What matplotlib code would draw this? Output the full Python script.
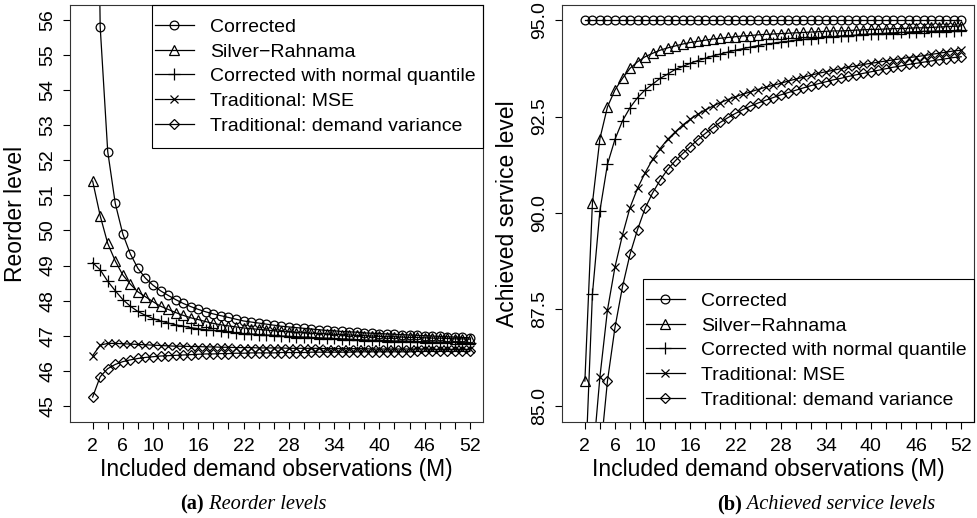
import matplotlib
matplotlib.use("Agg")
import matplotlib.pyplot as plt
from matplotlib.patches import Rectangle

# ---------------- data ----------------
M = list(range(2, 53))

series_labels = ["Corrected", "Silver\u2212Rahnama", "Corrected with normal quantile",
                 "Traditional: MSE", "Traditional: demand variance"]

reorder_corrected = [72.0, 55.81, 52.25, 50.77, 49.90, 49.33, 48.92, 48.64, 48.44, 48.28,
                     48.15, 48.03, 47.92, 47.83, 47.75, 47.68, 47.62, 47.57, 47.52, 47.47,
                     47.42, 47.39, 47.36, 47.33, 47.30, 47.27, 47.25, 47.23, 47.21, 47.19,
                     47.17, 47.15, 47.14, 47.12, 47.11, 47.10, 47.08, 47.07, 47.06, 47.05,
                     47.04, 47.03, 47.02, 47.01, 47.00, 46.99, 46.98, 46.97, 46.96, 46.95,
                     46.94]
reorder_sr = [51.41, 50.42, 49.63, 49.13, 48.73, 48.47, 48.25, 48.11, 47.97,
              47.84, 47.75, 47.66, 47.58, 47.51, 47.46, 47.40, 47.35, 47.31, 47.28,
              47.25, 47.22, 47.20, 47.18, 47.16, 47.14, 47.12, 47.11, 47.09, 47.08,
              47.07, 47.06, 47.05, 47.04, 47.03, 47.02, 47.01, 47.00, 46.99, 46.98,
              46.97, 46.97, 46.96, 46.95, 46.95, 46.94, 46.93, 46.93, 46.92, 46.91,
              46.91, 46.90]
reorder_normq = [49.08, 48.88, 48.55, 48.28, 48.03, 47.84, 47.69, 47.58, 47.49,
                 47.42, 47.36, 47.31, 47.27, 47.23, 47.20, 47.17, 47.15, 47.12, 47.10,
                 47.08, 47.06, 47.05, 47.03, 47.02, 47.01, 46.99, 46.98, 46.97, 46.96,
                 46.95, 46.94, 46.93, 46.92, 46.91, 46.90, 46.89, 46.88, 46.87, 46.87,
                 46.86, 46.85, 46.85, 46.84, 46.83, 46.83, 46.82, 46.82, 46.81, 46.81,
                 46.80, 46.80]
reorder_mse = [46.43, 46.73, 46.78, 46.78, 46.77, 46.76, 46.75, 46.74, 46.73,
               46.72, 46.71, 46.70, 46.70, 46.69, 46.69, 46.68, 46.68, 46.67, 46.67,
               46.66, 46.66, 46.66, 46.65, 46.65, 46.65, 46.65, 46.64, 46.64, 46.64,
               46.64, 46.64, 46.63, 46.63, 46.63, 46.63, 46.63, 46.63, 46.62, 46.62,
               46.62, 46.62, 46.62, 46.62, 46.62, 46.62, 46.61, 46.61, 46.61, 46.61,
               46.61, 46.61]
reorder_var = [45.25, 45.83, 46.06, 46.18, 46.26, 46.31, 46.35, 46.38, 46.40,
               46.42, 46.43, 46.44, 46.45, 46.46, 46.47, 46.48, 46.48, 46.49, 46.49,
               46.50, 46.50, 46.51, 46.51, 46.51, 46.51, 46.52, 46.52, 46.52, 46.52,
               46.53, 46.53, 46.53, 46.53, 46.53, 46.53, 46.54, 46.54, 46.54, 46.54,
               46.54, 46.54, 46.54, 46.54, 46.55, 46.55, 46.55, 46.55, 46.55, 46.55,
               46.55, 46.55]

sl_corrected = [95.00, 95.00, 95.00, 95.00, 95.00, 95.00, 95.00, 95.00, 95.00,
                95.00, 95.00, 95.00, 95.00, 95.00, 95.00, 95.00, 95.00, 95.00, 95.00,
                95.00, 95.00, 95.00, 95.00, 95.00, 95.00, 95.00, 95.00, 95.00, 95.00,
                95.00, 95.00, 95.00, 95.00, 95.00, 95.00, 95.00, 95.00, 95.00, 95.00,
                95.00, 95.00, 95.00, 95.00, 95.00, 95.00, 95.00, 95.00, 95.00, 95.00,
                95.00, 95.00]
sl_sr = [85.64, 90.25, 91.93, 92.75, 93.19, 93.49, 93.75, 93.92, 94.05,
         94.14, 94.22, 94.28, 94.33, 94.38, 94.42, 94.45, 94.48, 94.51, 94.53,
         94.55, 94.57, 94.59, 94.60, 94.62, 94.63, 94.64, 94.65, 94.66, 94.67,
         94.68, 94.69, 94.70, 94.71, 94.72, 94.72, 94.73, 94.74, 94.75, 94.76,
         94.76, 94.77, 94.78, 94.78, 94.79, 94.80, 94.80, 94.81, 94.82, 94.83,
         94.84, 94.85]
sl_normq = [83.00, 87.89, 90.06, 91.26, 91.91, 92.39, 92.73, 92.99, 93.19,
            93.34, 93.49, 93.60, 93.72, 93.80, 93.88, 93.95, 94.01, 94.07, 94.12,
            94.17, 94.22, 94.26, 94.30, 94.34, 94.37, 94.40, 94.43, 94.45, 94.48,
            94.50, 94.52, 94.54, 94.56, 94.57, 94.59, 94.60, 94.61, 94.63, 94.64,
            94.65, 94.66, 94.67, 94.68, 94.69, 94.70, 94.71, 94.71, 94.72, 94.73,
            94.73, 94.74]
sl_mse = [78.00, 83.50, 85.75, 87.48, 88.60, 89.43, 90.14, 90.64, 91.04,
          91.39, 91.67, 91.91, 92.10, 92.28, 92.43, 92.56, 92.67, 92.77, 92.86,
          92.94, 93.01, 93.08, 93.14, 93.20, 93.26, 93.31, 93.36, 93.42, 93.47,
          93.52, 93.57, 93.62, 93.66, 93.70, 93.74, 93.78, 93.81, 93.85, 93.88,
          93.91, 93.94, 93.97, 94.00, 94.03, 94.05, 94.08, 94.11, 94.14, 94.17,
          94.20, 94.22]
sl_var = [75.00, 80.00, 83.64, 85.64, 87.03, 88.09, 88.93, 89.57, 90.12,
          90.52, 90.85, 91.13, 91.35, 91.54, 91.72, 91.90, 92.06, 92.21, 92.35,
          92.47, 92.58, 92.68, 92.77, 92.85, 92.92, 92.99, 93.06, 93.12, 93.18,
          93.24, 93.30, 93.35, 93.40, 93.45, 93.49, 93.54, 93.58, 93.62, 93.66,
          93.70, 93.74, 93.78, 93.81, 93.85, 93.88, 93.91, 93.94, 93.97, 94.00,
          94.03, 94.05]

x_ticks = list(range(2, 53, 2))
x_ticklabels = ["2", "", "6", "", "10", "", "", "16", "", "", "22", "", "", "28", "", "",
                "34", "", "", "40", "", "", "46", "", "", "52"]
y1_ticks = [45, 46, 47, 48, 49, 50, 51, 52, 53, 54, 55, 56]
y1_ticklabels = ["45", "46", "47", "48", "49", "50", "51", "52", "53", "54", "55", "56"]
y2_ticks = [85.0, 87.5, 90.0, 92.5, 95.0]
y2_ticklabels = ["85.0", "87.5", "90.0", "92.5", "95.0"]

# ---------------- style ----------------
plt.rcParams["font.family"] = ["Liberation Sans", "DejaVu Sans"]
markers = [dict(marker="o", ms=6.3), dict(marker="^", ms=7.5), dict(marker="+", ms=8),
           dict(marker="x", ms=6.3), dict(marker="D", ms=5.2)]

fig = plt.figure(figsize=(9.77, 5.18), dpi=100)
ax1 = fig.add_axes([70 / 977, 1 - 422.3 / 518, 412.7 / 977, 417.3 / 518])
ax2 = fig.add_axes([562.3 / 977, 1 - 422.3 / 518, 411.7 / 977, 417.6 / 518])


def draw(ax, data, yticks, yticklabels, ylim, ylabel, box, leg_anchor, leg_loc):
    handles = []
    for vals, mk, lab in zip(data, markers, series_labels):
        h, = ax.plot(M, vals, color="black", lw=0.9, mfc="none", mec="black",
                     mew=0.9, label=lab, **mk)
        handles.append(h)
    ax.set_xlim(-1.0, 53.7)
    ax.set_ylim(*ylim)
    ax.set_xticks(x_ticks)
    ax.set_xticklabels(x_ticklabels, fontsize=14)
    ax.set_yticks(yticks)
    ax.set_yticklabels(yticklabels, fontsize=14, rotation=90, va="center")
    ax.tick_params(axis="both", direction="out", length=5, width=0.8, color="black")
    ax.tick_params(axis="x", pad=6)
    ax.tick_params(axis="y", pad=5)
    for s in ax.spines.values():
        s.set_linewidth(0.8)
        s.set_color("#333333")
    ax.set_xlabel("Included demand observations (M)", fontsize=16.5)
    ax.xaxis.set_label_coords(0.5, -0.086)
    ax.set_ylabel(ylabel, fontsize=16.5)
    ax.yaxis.set_label_coords(-0.104, 0.5)
    ax.add_patch(Rectangle((box[0], box[1]), box[2], box[3], transform=ax.transAxes,
                           facecolor="none", edgecolor="black", lw=0.8, clip_on=False,
                           zorder=5))
    ax.legend(handles=handles, loc=leg_loc, bbox_to_anchor=leg_anchor, frameon=False,
              fontsize=14, handlelength=2.0, handletextpad=0.85, labelspacing=0.36,
              borderpad=0, borderaxespad=0, numpoints=1)


draw(ax1, [reorder_corrected, reorder_sr, reorder_normq, reorder_mse, reorder_var],
     y1_ticks, y1_ticklabels, (44.53, 56.43), "Reorder level",
     (0.1987, 0.6573, 0.8013, 0.3427), (0.206, 0.8287), "center left")
draw(ax2, [sl_corrected, sl_sr, sl_normq, sl_mse, sl_var],
     y2_ticks, y2_ticklabels, (84.57, 95.40), "Achieved service level",
     (0.1967, 0.0, 0.8033, 0.3431), (0.203, 0.172), "center left")

# captions
for xc, tag, txt in [(180 / 977, "(a)", " Reorder levels"),
                     (717 / 977, "(b)", " Achieved service levels")]:
    t1 = fig.text(xc, 1 - 509 / 518, tag, fontsize=14.7, fontweight="bold",
                  family="Liberation Serif", ha="left", va="baseline")
    fig.canvas.draw()
    fig.text(0, 0, "")
    plt.annotate(txt, xy=(1, 0), xycoords=t1, fontsize=14.7, style="italic",
                 family="Liberation Serif", ha="left", va="bottom",
                 annotation_clip=False)

fig.savefig("out.png", dpi=100)
